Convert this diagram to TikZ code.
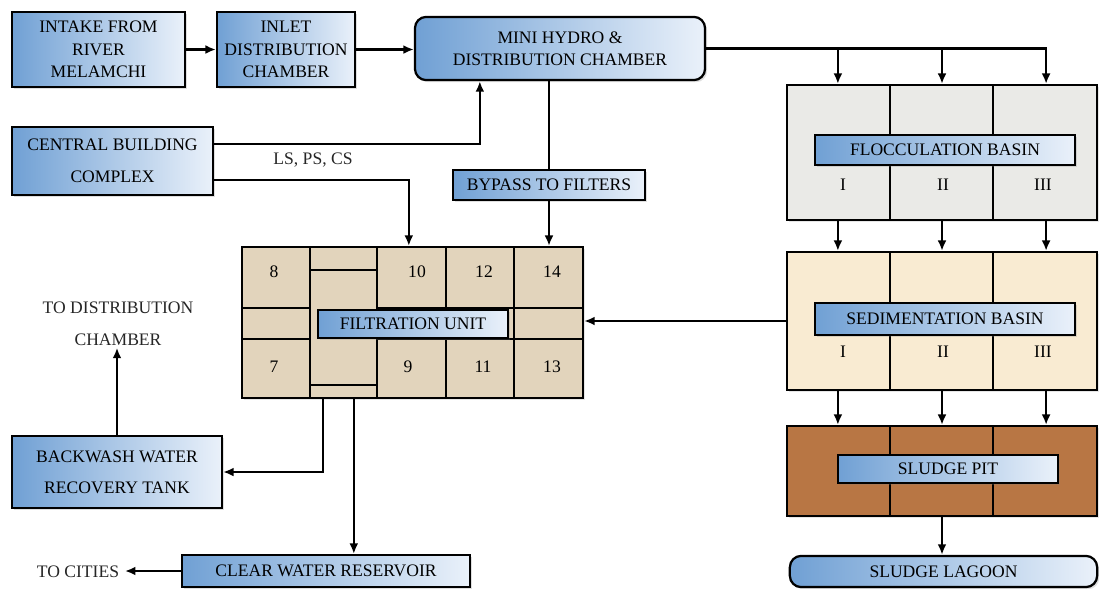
\documentclass[tikz,border=0pt]{standalone}
\usepackage{fontspec}
\setmainfont{Liberation Serif}
\usetikzlibrary{arrows.meta, positioning, calc, shadows}
\definecolor{boxblue}{RGB}{112, 160, 212}
\definecolor{boxwhite}{RGB}{234, 241, 250}
\definecolor{flocgray}{RGB}{234, 234, 231}
\definecolor{sedbeige}{RGB}{249, 235, 210}
\definecolor{sludgebrown}{RGB}{184, 118, 68}
\definecolor{filtbeige}{RGB}{226, 212, 188}

\begin{document}
\begin{tikzpicture}[
    x=0.025cm, y=-0.025cm,
    every node/.style={font=\rmfamily\fontsize{12.5}{16}\selectfont, align=center, inner sep=1pt},
    blk/.style={draw=black, line width=1.6pt, left color=boxblue, right color=boxwhite, drop shadow={opacity=0.25, shadow xshift=1.5pt, shadow yshift=-1.5pt}},
    rblk/.style={blk, rounded corners=8pt},
    basin/.style={draw=black, line width=1.6pt, drop shadow={opacity=0.2, shadow xshift=1.5pt, shadow yshift=-1.5pt}},
    lbl/.style={text=black!85},
    arr/.style={-{Latex[length=2.6mm, width=2.2mm]}, line width=1.6pt},
    line/.style={line width=1.6pt},
    grid/.style={line width=1.6pt},
    thin/.style={line width=0.9pt}
]
\useasboundingbox (0,0) rectangle (1099,588);

% Row 1: intake and chambers
\node[blk, minimum width=4.33cm, minimum height=1.88cm] (intake) at (98.5,49.5) {INTAKE FROM\\RIVER\\MELAMCHI};
\node[blk, minimum width=3.45cm, minimum height=1.88cm] (inlet) at (286,49.5) {INLET\\DISTRIBUTION\\CHAMBER};
\node[rblk, minimum width=7.25cm, minimum height=1.58cm] (hydro) at (560,48.5) {MINI HYDRO \&\\DISTRIBUTION CHAMBER};

% Row 2: central building and bypass
\node[blk, minimum width=5.03cm, minimum height=1.7cm] (central) at (112.5,161) {CENTRAL BUILDING\\[7pt]COMPLEX};
\node[lbl] (lsps) at (313,160) {LS, PS, CS};
\node[blk, minimum width=4.8cm, minimum height=0.75cm] (bypass) at (549,185) {BYPASS TO FILTERS};

% Filtration unit
\node[basin, fill=filtbeige, minimum width=8.525cm, minimum height=3.775cm] (filt) at (412.5,322.5) {};
\draw[grid] (310,247) -- (310,398) (377,247) -- (377,398) (446,247) -- (446,398) (514,247) -- (514,398);
\draw[grid] (242,308) -- (310,308) (242,339) -- (310,339) (377,308) -- (583,308) (377,339) -- (583,339);
\draw[thin] (310,270) -- (377,270) (310,385) -- (377,385);
\node (n8) at (274,272) {8};
\node (n10) at (417,272) {10};
\node (n12) at (484,272) {12};
\node (n14) at (552,272) {14};
\node (n7) at (274,367) {7};
\node (n9) at (408,367) {9};
\node (n11) at (483,367) {11};
\node (n13) at (552,367) {13};
\node[blk, minimum width=4.75cm, minimum height=0.7cm] (filtlbl) at (413,324) {FILTRATION UNIT};

% Basins on the right
\node[basin, fill=flocgray, minimum width=7.75cm, minimum height=3.375cm] (floc) at (942,152.5) {};
\draw[thin] (890,85) -- (890,220) (993,85) -- (993,220);
\node[blk, minimum width=6.5cm, minimum height=0.75cm] (floclbl) at (945,150) {FLOCCULATION BASIN};
\node (f1) at (843,185) {I};
\node (f2) at (943,185) {II};
\node (f3) at (1043,185) {III};

\node[basin, fill=sedbeige, minimum width=7.75cm, minimum height=3.45cm] (sed) at (942,321) {};
\draw[thin] (890,252) -- (890,390) (993,252) -- (993,390);
\node[blk, minimum width=6.5cm, minimum height=0.8cm] (sedlbl) at (945,319) {SEDIMENTATION BASIN};
\node (s1) at (843,352) {I};
\node (s2) at (943,352) {II};
\node (s3) at (1043,352) {III};

\node[basin, fill=sludgebrown, minimum width=7.75cm, minimum height=2.25cm] (pit) at (942,471) {};
\draw[thin] (890,426) -- (890,516) (993,426) -- (993,516);
\node[blk, minimum width=5.5cm, minimum height=0.7cm] (pitlbl) at (948,469) {SLUDGE PIT};
\node[rblk, minimum width=7.68cm, minimum height=0.78cm] (lagoon) at (943.5,571.5) {SLUDGE LAGOON};

% Bottom left
\node[blk, minimum width=5.25cm, minimum height=1.8cm] (backwash) at (117,472) {BACKWASH WATER\\[6pt]RECOVERY TANK};
\node[lbl] (todist) at (118,324) {TO DISTRIBUTION\\[7pt]CHAMBER};
\node[blk, minimum width=7.2cm, minimum height=0.8cm] (clear) at (326,571) {CLEAR WATER RESERVOIR};
\node[lbl, inner sep=4pt] (tocities) at (78,572) {TO CITIES};

% Helper points
\coordinate (c1) at ($(floc.north west)!1/6!(floc.north east)$);
\coordinate (c2) at ($(floc.north west)!1/2!(floc.north east)$);
\coordinate (c3) at ($(floc.north west)!5/6!(floc.north east)$);
\coordinate (hin) at ($(hydro.south west)+(66,0)$);
\coordinate (fin) at ($(filt.north west)+(168,0)$);
\coordinate (fout1) at ($(filt.south west)+(82,0)$);
\coordinate (fout2) at ($(filt.south west)+(113,0)$);

% Connectors
\draw[arr] (intake) -- (inlet);
\draw[arr] (inlet.east) -- (inlet.east -| hydro.west);
\draw[arr] (hydro.east) -| (c3 |- floc.north);
\draw[arr] (c1 |- hydro.east) -- (c1 |- floc.north);
\draw[arr] (c2 |- hydro.east) -- (c2 |- floc.north);
\draw[arr] (c1 |- floc.south) -- (c1 |- sed.north);
\draw[arr] (c2 |- floc.south) -- (c2 |- sed.north);
\draw[arr] (c3 |- floc.south) -- (c3 |- sed.north);
\draw[arr] (c1 |- sed.south) -- (c1 |- pit.north);
\draw[arr] (c2 |- sed.south) -- (c2 |- pit.north);
\draw[arr] (c3 |- sed.south) -- (c3 |- pit.north);
\draw[arr] (pit.south) -- (pit.south |- lagoon.north);
\draw[arr] ($(central.east)+(0,-17)$) -| (hin);
\draw[arr] ($(central.east)+(0,19)$) -| (fin);
\draw[line] (bypass.north |- hydro.south) -- (bypass.north);
\draw[arr] (bypass.south) -- (bypass.south |- filt.north);
\draw[arr] (sed.west) -- (sed.west -| filt.east);
\draw[arr] (fout1) |- (backwash.east);
\draw[arr] (fout2) -- (fout2 |- clear.north);
\draw[arr] (backwash.north) -- (backwash.north |- todist.south);
\draw[arr] (clear.west) -- (clear.west -| tocities.east);

\end{tikzpicture}
\end{document}
